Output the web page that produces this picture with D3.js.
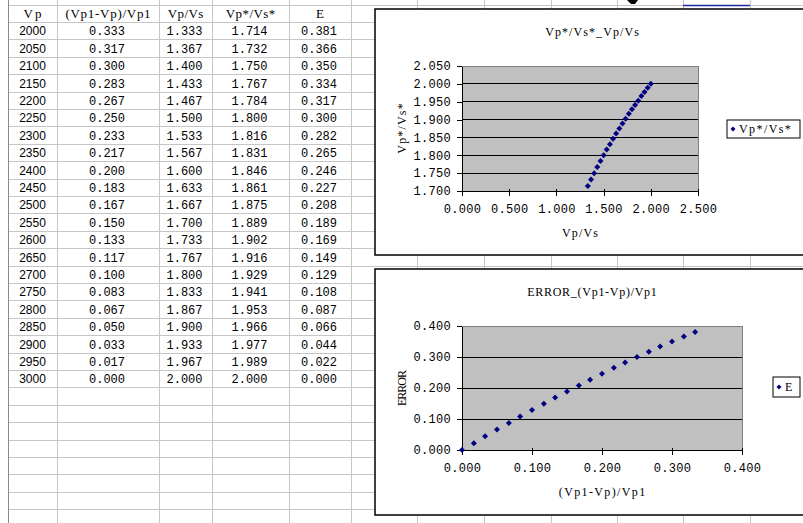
<!DOCTYPE html>
<html><head><meta charset="utf-8">
<script src="https://cdn.jsdelivr.net/npm/d3@7"></script>
<style>html,body{margin:0;padding:0;background:#fff;}svg{display:block;}</style>
</head><body>
<svg id="c" width="803" height="523"></svg>
<script>
// ---- data ----
const headers = ["Vp", "(Vp1-Vp)/Vp1", "Vp/Vs", "Vp*/Vs*", "E"];
const vp = [2000,2050,2100,2150,2200,2250,2300,2350,2400,2450,2500,2550,2600,2650,2700,2750,2800,2850,2900,2950,3000];
const ratio = [0.333,0.317,0.300,0.283,0.267,0.250,0.233,0.217,0.200,0.183,0.167,0.150,0.133,0.117,0.100,0.083,0.067,0.050,0.033,0.017,0.000];
const vpvs = [1.333,1.367,1.400,1.433,1.467,1.500,1.533,1.567,1.600,1.633,1.667,1.700,1.733,1.767,1.800,1.833,1.867,1.900,1.933,1.967,2.000];
const vpvsStar = [1.714,1.732,1.750,1.767,1.784,1.800,1.816,1.831,1.846,1.861,1.875,1.889,1.902,1.916,1.929,1.941,1.953,1.966,1.977,1.989,2.000];
const errE = [0.381,0.366,0.350,0.334,0.317,0.300,0.282,0.265,0.246,0.227,0.208,0.189,0.169,0.149,0.129,0.108,0.087,0.066,0.044,0.022,0.000];
const chart1Ticks = { x: [0, 0.5, 1.0, 1.5, 2.0, 2.5], y: [1.70, 1.75, 1.80, 1.85, 1.90, 1.95, 2.00, 2.05] };
const chart2Ticks = { x: [0, 0.1, 0.2, 0.3, 0.4], y: [0, 0.1, 0.2, 0.3, 0.4] };

// ---- layout ----
const svg = d3.select("#c");
const W = 803, H = 523;
const colEdges = [8, 57, 159, 212, 289, 351, 417, 484, 551, 617, 683, 750, 817];
const gridTop = 5, rowH = 17.4;
const mono = "'Liberation Mono', 'DejaVu Sans Mono', monospace";
const sans = "'Liberation Sans', Arial, sans-serif";
const serif = "'Liberation Serif', 'DejaVu Serif', serif";
const fmt = d3.format(".3f");

// serif text stretched to a monospace-like advance (as the original CJK font renders it)
function label(sel, t, size, adv) {
  return sel.append("text").attr("font-family", serif).attr("font-size", size).attr("fill", "#000")
    .attr("textLength", t.length * adv).attr("lengthAdjust", "spacing").text(t);
}

// spreadsheet grid
const g0 = svg.append("g");
const nRows = Math.ceil((H - gridTop) / rowH) + 1;
for (let k = 0; k <= nRows; k++) {
  const y = gridTop + k * rowH;
  g0.append("line").attr("x1", 8).attr("x2", W).attr("y1", y).attr("y2", y)
    .attr("stroke", "#c6c6c6").attr("stroke-width", 1).attr("shape-rendering", "crispEdges");
}
colEdges.forEach((x, i) => {
  g0.append("line").attr("x1", x).attr("x2", x).attr("y1", 0).attr("y2", H)
    .attr("stroke", i === 0 ? "#8a8a8a" : "#c6c6c6").attr("stroke-width", 1).attr("shape-rendering", "crispEdges");
});
// descender of a cut-off heading above the visible area, and the selected-cell edge
g0.append("path").attr("d", "M627,0 L631,4 L635,4 L638,0 Z").attr("fill", "#000");
g0.append("line").attr("x1", 683).attr("x2", 750).attr("y1", 5.5).attr("y2", 5.5)
  .attr("stroke", "#1f2a9c").attr("stroke-width", 1.5);

// table text
const rows = vp.map((v, i) => [String(v), fmt(ratio[i]), fmt(vpvs[i]), fmt(vpvsStar[i]), fmt(errE[i])]);
const gt = svg.append("g");
headers.forEach((h, c) => {
  label(gt, h, 13, h.length < 3 ? 9 : 7.1).attr("x", (colEdges[c] + colEdges[c + 1]) / 2).attr("y", gridTop + rowH / 2)
    .attr("dy", "0.35em").attr("text-anchor", "middle");
});
rows.forEach((r, i) => {
  r.forEach((t, c) => {
    gt.append("text").attr("x", (colEdges[c] + colEdges[c + 1]) / 2 + (c === 0 ? 0 : -1))
      .attr("y", gridTop + (i + 1) * rowH + rowH / 2).attr("dy", "0.35em")
      .attr("text-anchor", "middle").attr("font-family", c === 0 ? sans : mono)
      .attr("font-size", 12).attr("fill", "#000").text(t);
  });
});

// ---- charts ----
function diamond(sel, x, y, s) {
  sel.append("path").attr("d", `M${x},${y - s}L${x + s},${y}L${x},${y + s}L${x - s},${y}Z`).attr("fill", "#000080");
}

function chart(cfg) {
  const g = svg.append("g");
  g.append("rect").attr("x", cfg.box[0]).attr("y", cfg.box[1]).attr("width", cfg.box[2]).attr("height", cfg.box[3])
    .attr("fill", "#fff").attr("stroke", "#000").attr("stroke-width", 1.5);
  const x = d3.scaleLinear().domain(cfg.xd).range([cfg.plot[0], cfg.plot[1]]);
  const y = d3.scaleLinear().domain(cfg.yd).range([cfg.plot[3], cfg.plot[2]]);
  g.append("rect").attr("x", x(cfg.xd[0])).attr("y", y(cfg.yd[1]))
    .attr("width", x(cfg.xd[1]) - x(cfg.xd[0])).attr("height", y(cfg.yd[0]) - y(cfg.yd[1]))
    .attr("fill", "#c0c0c0").attr("stroke", "#808080").attr("stroke-width", 1).attr("shape-rendering", "crispEdges");
  // gridlines
  cfg.yt.slice(1, -1).forEach(t => {
    g.append("line").attr("x1", x(cfg.xd[0])).attr("x2", x(cfg.xd[1])).attr("y1", y(t)).attr("y2", y(t))
      .attr("stroke", "#000").attr("stroke-width", 1).attr("shape-rendering", "crispEdges");
  });
  const ax = d3.axisBottom(x).tickValues(cfg.xt).tickFormat(fmt).tickSizeInner(5).tickSizeOuter(0).tickPadding(8);
  const ay = d3.axisLeft(y).tickValues(cfg.yt).tickFormat(fmt).tickSizeInner(5).tickSizeOuter(0).tickPadding(6);
  const gx = g.append("g").attr("transform", `translate(0,${y(cfg.yd[0])})`).call(ax);
  const gy = g.append("g").attr("transform", `translate(${x(cfg.xd[0])},0)`).call(ay);
  [gx, gy].forEach(a => {
    a.selectAll("path,line").attr("stroke", "#000").attr("stroke-width", 1).attr("shape-rendering", "crispEdges");
    a.selectAll("text").attr("font-family", mono).attr("font-size", 12).attr("fill", "#000").attr("letter-spacing", 0.3);
  });
  gx.selectAll(".tick line").attr("y1", -2);
  // title and axis titles
  label(g, cfg.title, 12, 7.2).attr("x", cfg.titleX).attr("y", cfg.titleY).attr("text-anchor", "middle");
  label(g, cfg.xTitle, 12, 7.2).attr("x", (cfg.plot[0] + cfg.plot[1]) / 2).attr("y", cfg.xTitleY).attr("text-anchor", "middle");
  label(g, cfg.yTitle, 12, 7.2).attr("transform", `translate(${cfg.yTitleX},${(cfg.plot[2] + cfg.plot[3]) / 2}) rotate(-90)`)
    .attr("text-anchor", "middle");
  // points
  const pts = g.append("g");
  cfg.xs.forEach((v, i) => diamond(pts, x(v), y(cfg.ys[i]), 3));
  // legend
  const L = cfg.legend;
  g.append("rect").attr("x", L[0]).attr("y", L[1]).attr("width", L[2]).attr("height", L[3])
    .attr("fill", "#fff").attr("stroke", "#000").attr("stroke-width", 1);
  diamond(g, L[0] + 6, L[1] + L[3] / 2, 2.5);
  label(g, cfg.legendText, 12, 7.4).attr("x", L[0] + 12).attr("y", L[1] + L[3] / 2).attr("dy", "0.35em");
}

chart({
  box: [375, 9, 480, 246], plot: [462, 698, 66, 191],
  xd: [0, 2.5], yd: [1.7, 2.05], xt: chart1Ticks.x, yt: chart1Ticks.y,
  xs: vpvs, ys: vpvsStar,
  title: "Vp*/Vs*_Vp/Vs", titleX: 592, titleY: 36,
  xTitle: "Vp/Vs", xTitleY: 237, yTitle: "Vp*/Vs*", yTitleX: 406,
  legend: [727, 120, 73, 18], legendText: "Vp*/Vs*"
});
chart({
  box: [375, 269, 480, 246], plot: [462, 742, 326, 450],
  xd: [0, 0.4], yd: [0, 0.4], xt: chart2Ticks.x, yt: chart2Ticks.y,
  xs: ratio, ys: errE,
  title: "ERROR_(Vp1-Vp)/Vp1", titleX: 592, titleY: 296,
  xTitle: "(Vp1-Vp)/Vp1", xTitleY: 496, yTitle: "ERROR", yTitleX: 406,
  legend: [773, 377, 27, 20], legendText: "E"
});
</script>
</body></html>
